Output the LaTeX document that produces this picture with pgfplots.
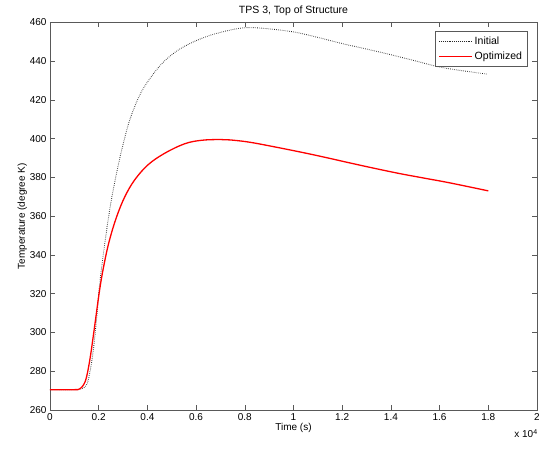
\documentclass[border=0pt]{standalone}
\usepackage{pgfplots}
\pgfplotsset{compat=1.18}
\usepackage{fontspec}
\setmainfont{Liberation Sans}
\begin{document}
\begin{tikzpicture}
\begin{axis}[
  scale only axis,
  width=487pt, height=387.5pt,
  xmin=0, xmax=20000, ymin=260, ymax=460,
  xtick={0,2000,4000,6000,8000,10000,12000,14000,16000,18000,20000},
  ytick={260,280,300,320,340,360,380,400,420,440,460},
  scaled x ticks=base 10:-4,
  xtick scale label code/.code={x 10\textsuperscript{4}},
  every x tick scale label/.style={at={(rel axis cs:1,0)}, anchor=north, xshift=-11pt, yshift=-19pt, inner sep=0pt},
  xticklabel style={/pgf/number format/fixed},
  /pgf/number format/assume math mode=true,
  tick align=inside,
  tick pos=both,
  ticklabel pos=left,
  major tick length=5pt,
  axis line style={black!65, line width=0.5pt},
  every tick/.style={black!65, line width=0.5pt},
  tick label style={font=\fontsize{10}{12}\selectfont},
  label style={font=\fontsize{10}{12}\selectfont},
  title style={font=\fontsize{10.5}{12}\selectfont, yshift=-3pt},
  title={TPS 3, Top of Structure},
  xlabel={Time (s)},
  ylabel={Temperature (degree K)},
  xlabel style={yshift=4pt},
  ylabel style={yshift=-4pt},
  legend style={at={(rel axis cs:0.98,0.977)}, anchor=north east, font=\fontsize{10.5}{12}\selectfont, draw=black!65, line width=0.5pt, inner xsep=3pt, inner ysep=3pt, row sep=2pt},
  legend cell align=left,
  legend image code/.code={\draw[#1] (0pt,0pt) -- (33pt,0pt);},
]
\coordinate (sw) at (rel axis cs:0,0);
\coordinate (ne) at (rel axis cs:1,1);
\addplot[black!85, line width=0.9pt, dash pattern=on 0.6pt off 1.3pt, smooth, tension=0.6] coordinates {
(0,270.5) (1000,270.5) (1300,271) (1500,273) (1630,279) (1780,291) (1920,308)
(2040,325) (2250,346) (2500,367) (2780,385) (3000,397) (3270,409.5)
(3680,422.4) (4100,431) (4650,439.5) (5330,446.3) (6150,451.4) (6970,454.8)
(8000,457.3) (9000,456.7) (10060,455) (11000,452.3) (12040,449) (13000,446.3) (14020,443.3) (15000,440.2) (16010,437)
(17000,435) (17930,433.4)
};
\addlegendentry{Initial}
\addplot[red, line width=1.3pt, smooth, tension=0.6] coordinates {
(0,270.5) (1000,270.5) (1200,270.8) (1370,272.8) (1500,277) (1650,287) (1820,302)
(2050,323) (2250,337) (2450,348) (2730,359.5) (3070,370) (3480,378.8)
(4030,386.6) (4710,392.5) (5530,397.4) (6220,399.2) (6970,399.6) (7390,399.4)
(8100,398.4) (8900,396.6) (10260,393.2) (11300,390.4) (12320,387.5) (13300,384.8) (14370,382) (15400,379.6) (16430,377.2) (18000,373.1)
};
\addlegendentry{Optimized}
\end{axis}
\pgfresetboundingbox
\path ([shift={(-50pt,-40pt)}]sw) rectangle ([shift={(2pt,22.5pt)}]ne);
\end{tikzpicture}
\end{document}
